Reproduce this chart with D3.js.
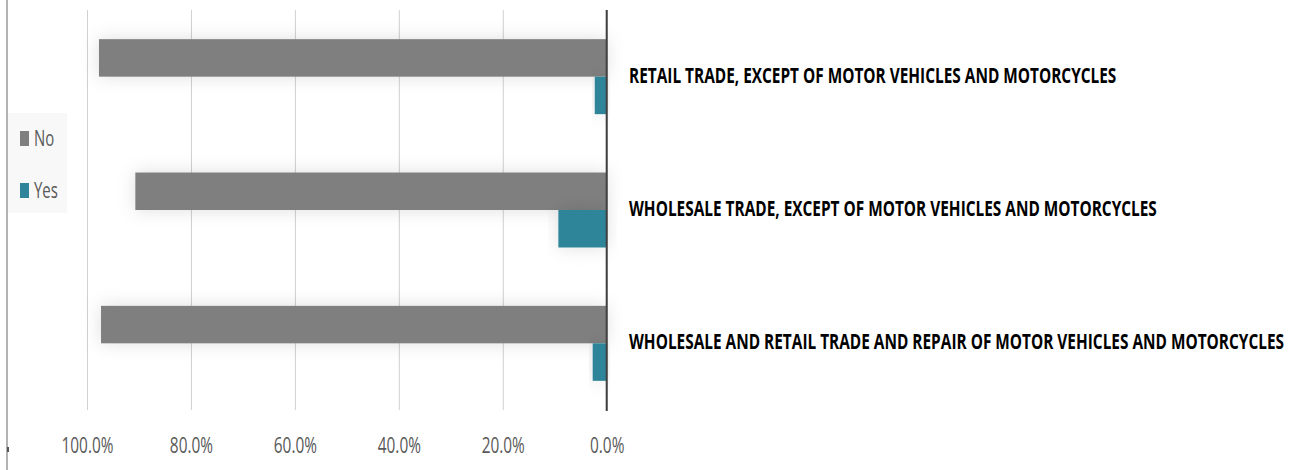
<!DOCTYPE html>
<html>
<head>
<meta charset="utf-8">
<script src="https://cdn.jsdelivr.net/npm/d3@7/dist/d3.min.js"></script>
<style>
  html, body { margin: 0; padding: 0; background: #fff; }
  svg { display: block; }
  text { font-family: "Open Sans", "DejaVu Sans", sans-serif; }
</style>
</head>
<body>
<svg id="chart" width="1293" height="470"></svg>
<script>
// ---- data (top to bottom as displayed) ----
const categories = [
  "RETAIL TRADE, EXCEPT OF MOTOR VEHICLES AND MOTORCYCLES",
  "WHOLESALE TRADE, EXCEPT OF MOTOR VEHICLES AND MOTORCYCLES",
  "WHOLESALE AND RETAIL TRADE AND REPAIR OF MOTOR VEHICLES AND MOTORCYCLES"
];
const seriesNames = ["No", "Yes"];
const noValues  = [0.977, 0.907, 0.973];
const yesValues = [0.023, 0.093, 0.027];
const xTicks = [1.0, 0.8, 0.6, 0.4, 0.2, 0.0];

const colors = { No: "#7f7f7f", Yes: "#2e8599" };

const svg = d3.select("#chart");
const W = 1293, H = 470;

const defs = svg.append("defs");
const f = defs.append("filter").attr("id", "glow")
  .attr("x", "-20%").attr("y", "-80%").attr("width", "140%").attr("height", "260%");
f.append("feDropShadow").attr("dx", 0).attr("dy", 0)
  .attr("stdDeviation", 9).attr("flood-color", "#000").attr("flood-opacity", 0.13);

// frame line at left
svg.append("rect").attr("x", 6).attr("y", 0).attr("width", 2).attr("height", H).attr("fill", "#b3b3b3");
svg.append("rect").attr("x", 7).attr("y", 447).attr("width", 2).attr("height", 5).attr("fill", "#555");

const x = d3.scaleLinear().domain([0, 1]).range([606.7, 87]);
const y = d3.scaleBand().domain(categories).range([10, 410]).padding(0);
const ys = d3.scaleBand().domain(seriesNames).range([0, y.bandwidth()])
  .paddingInner(0).paddingOuter(0.778);

// gridlines + tick labels via axis
const axis = d3.axisBottom(x).tickValues(xTicks).tickFormat(d3.format(".1%"))
  .tickSize(400).tickPadding(0);
const gAxis = svg.append("g").attr("transform", "translate(0,10)").call(axis);
gAxis.select(".domain").remove();
gAxis.selectAll(".tick line").attr("stroke", "#d0d0d0").attr("stroke-width", 1);
gAxis.selectAll(".tick text")
  .attr("y", 0).attr("dy", 0)
  .attr("transform", "translate(0,443) scale(0.7,1)")
  .attr("fill", "#595959")
  .style("font-size", "22px");

// legend background
svg.append("rect").attr("x", 8).attr("y", 113).attr("width", 59).attr("height", 100).attr("fill", "#f8f8f8");

// bars
const rows = categories.map((c, i) => ({ cat: c, No: noValues[i], Yes: yesValues[i] }));
const gBars = svg.append("g");
rows.forEach(r => {
  seriesNames.forEach(s => {
    gBars.append("rect")
      .attr("x", x(r[s]))
      .attr("y", y(r.cat) + ys(s))
      .attr("width", x(0) - x(r[s]))
      .attr("height", ys.bandwidth())
      .attr("fill", colors[s])
      .attr("filter", "url(#glow)");
  });
});

// zero line
svg.append("line").attr("x1", x(0)).attr("x2", x(0)).attr("y1", 10).attr("y2", 411)
  .attr("stroke", "#404040").attr("stroke-width", 2);

// category labels
svg.append("g").selectAll("text").data(categories).join("text")
  .attr("transform", d => `translate(629,${y(d) + y.bandwidth() / 2 + 6}) scale(0.70,1)`)
  .attr("fill", "#000")
  .style("font-size", "22px").style("font-weight", "700")
  .text(d => d);

// legend
const leg = svg.append("g");
seriesNames.forEach((s, i) => {
  const yy = 131 + i * 52;
  leg.append("rect").attr("x", 20).attr("y", yy).attr("width", 9).attr("height", 15).attr("fill", colors[s]);
  leg.append("text")
    .attr("transform", `translate(34,${yy + 15}) scale(0.68,1)`)
    .attr("fill", "#595959")
    .style("font-size", "22px")
    .text(s);
});
</script>
</body>
</html>
